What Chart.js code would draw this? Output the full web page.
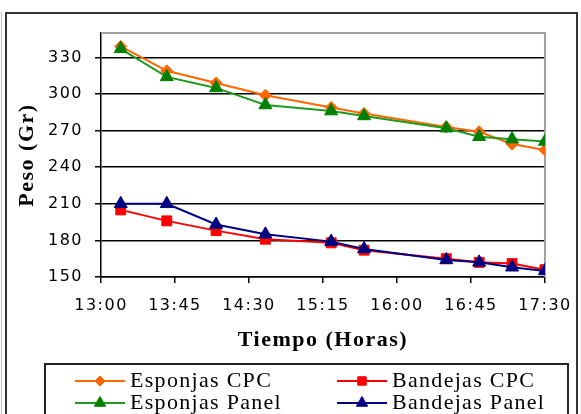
<!DOCTYPE html>
<html>
<head>
<meta charset="utf-8">
<script src="https://cdn.jsdelivr.net/npm/chart.js@4"></script>
<style>
  html, body { margin: 0; padding: 0; background: #fff; }
</style>
</head>
<body>
<canvas id="chart" width="581" height="414"></canvas>
<script>
// Datos
const horas = ['13:12', '13:40', '14:10', '14:40', '15:20', '15:40', '16:30', '16:50', '17:10', '17:30'];
const esponjasCPC = [339, 319, 309, 299, 289, 284, 273, 269, 259, 254];
const bandejasCPC = [205, 196, 188, 181, 178, 172, 165, 162, 161, 156];
const esponjasPanel = [337, 314, 305, 291, 286, 282, 272, 265, 263, 261];
const bandejasPanel = [210, 210, 193, 185, 179, 173, 164, 162, 158, 155];

const ticksX = ['13:00', '13:45', '14:30', '15:15', '16:00', '16:45', '17:30'];
const ticksY = [150, 180, 210, 240, 270, 300, 330];

function aMinutos(s) {
    const [h, m] = s.split(':').map(Number);
    return h * 60 + m;
}

function serie(valores) {
    return horas.map((h, i) => ({ x: aMinutos(h), y: valores[i] }));
}

// marco exterior, borde gris del area y leyenda con caja
const marcoPlugin = {
    id: 'marco',
    beforeDraw(chart) {
        const ctx = chart.ctx;
        ctx.save();
        ctx.fillStyle = '#fff';
        ctx.fillRect(0, 0, chart.width, chart.height);
        ctx.strokeStyle = '#c0c0c0';
        ctx.lineWidth = 1;
        ctx.beginPath();
        ctx.moveTo(1.5, 12);
        ctx.lineTo(1.5, chart.height);
        ctx.stroke();
        ctx.strokeStyle = '#333';
        ctx.lineWidth = 2;
        ctx.strokeRect(6, 13, 571, 430);
        ctx.restore();
        ctx.letterSpacing = '1.5px';
    },
    beforeDatasetsDraw(chart) {
        const { ctx, chartArea } = chart;
        ctx.save();
        ctx.strokeStyle = '#a0a0a0';
        ctx.lineWidth = 2;
        ctx.beginPath();
        ctx.moveTo(chartArea.left, chartArea.top);
        ctx.lineTo(chartArea.right, chartArea.top);
        ctx.lineTo(chartArea.right, chartArea.bottom);
        ctx.stroke();
        ctx.restore();
    },
    afterDraw(chart) {
        const ctx = chart.ctx;
        ctx.save();
        ctx.letterSpacing = '1.3px';
        ctx.strokeStyle = '#222';
        ctx.lineWidth = 2;
        ctx.strokeRect(45, 364, 523, 80);
        const cols = [75, 337];
        const rows = [381, 403];
        chart.data.datasets.forEach((ds, i) => {
            const cx = cols[i % 2];
            const cy = rows[Math.floor(i / 2)];
            ctx.strokeStyle = ds.borderColor;
            ctx.lineWidth = 2;
            ctx.beginPath();
            ctx.moveTo(cx, cy);
            ctx.lineTo(cx + 50, cy);
            ctx.stroke();
            ctx.fillStyle = ds.pointBackgroundColor;
            ctx.strokeStyle = ds.pointBackgroundColor;
            ctx.lineWidth = 1;
            Chart.helpers.drawPoint(ctx, { pointStyle: ds.pointStyle, radius: ds.pointRadius - 1, borderWidth: 1, rotation: 0 }, cx + 25, cy);
            ctx.fillStyle = '#000';
            ctx.font = '22px "Liberation Serif"';
            ctx.textBaseline = 'middle';
            ctx.textAlign = 'left';
            ctx.fillText(ds.label, cx + 55, cy);
        });
        ctx.restore();
    }
};

const ctx = document.getElementById('chart').getContext('2d');
const chart = new Chart(ctx, {
    type: 'line',
    data: {
        datasets: [{
            label: 'Esponjas CPC',
            data: serie(esponjasCPC),
            borderColor: '#FF6600',
            pointBackgroundColor: '#FF6600',
            pointBorderColor: '#FF6600',
            pointStyle: 'rectRot',
            pointRadius: 6,
            order: 2
        }, {
            label: 'Bandejas CPC',
            data: serie(bandejasCPC),
            borderColor: '#FF0000',
            pointBackgroundColor: '#FF0000',
            pointBorderColor: '#FF0000',
            pointStyle: 'rect',
            pointRadius: 7,
            order: 2
        }, {
            label: 'Esponjas Panel',
            data: serie(esponjasPanel),
            borderColor: '#1f9a1f',
            pointBackgroundColor: '#008000',
            pointBorderColor: '#008000',
            pointStyle: 'triangle',
            pointRadius: 7.5,
            order: 1
        }, {
            label: 'Bandejas Panel',
            data: serie(bandejasPanel),
            borderColor: '#000080',
            pointBackgroundColor: '#000080',
            pointBorderColor: '#000080',
            pointStyle: 'triangle',
            pointRadius: 7.5,
            order: 1
        }]
    },
    options: {
        responsive: false,
        animation: false,
        devicePixelRatio: 1,
        borderWidth: 2,
        elements: {
            line: { borderWidth: 2, tension: 0 },
            point: { borderWidth: 1 }
        },
        layout: { padding: { top: 33, right: 32, bottom: 57, left: 0 } },
        plugins: {
            legend: { display: false },
            tooltip: { enabled: false }
        },
        scales: {
            x: {
                type: 'linear',
                min: aMinutos('13:00'),
                max: aMinutos('17:30'),
                afterBuildTicks: s => { s.ticks = ticksX.map(t => ({ value: aMinutos(t) })); },
                afterFit: s => { s.height = 80; },
                ticks: {
                    autoSkip: false,
                    maxRotation: 0,
                    padding: 13,
                    color: '#000',
                    font: { family: 'DejaVu Sans', size: 16 },
                    callback: v => ticksX.find(t => aMinutos(t) === v) || ''
                },
                grid: { drawOnChartArea: false, drawTicks: true, tickLength: 6, color: '#000', lineWidth: 1.5 },
                border: { color: '#000', width: 1.5 },
                title: {
                    display: true,
                    text: 'Tiempo (Horas)',
                    color: '#000',
                    font: { family: 'Liberation Serif', size: 22, weight: 'bold' },
                    padding: { top: 0, bottom: 3 }
                }
            },
            y: {
                min: 150,
                max: 350,
                afterBuildTicks: s => { s.ticks = ticksY.map(v => ({ value: v })); },
                afterFit: s => { s.width = 101; },
                ticks: {
                    padding: 12,
                    color: '#000',
                    font: { family: 'DejaVu Sans', size: 16 }
                },
                grid: { color: '#000', lineWidth: 1.5, tickLength: 6 },
                border: { color: '#000', width: 1.5 },
                title: {
                    display: true,
                    text: 'Peso (Gr)',
                    color: '#000',
                    font: { family: 'Liberation Serif', size: 22, weight: 'bold' },
                    padding: { top: 14, bottom: 0 }
                }
            }
        }
    },
    plugins: [marcoPlugin]
});
</script>
</body>
</html>
